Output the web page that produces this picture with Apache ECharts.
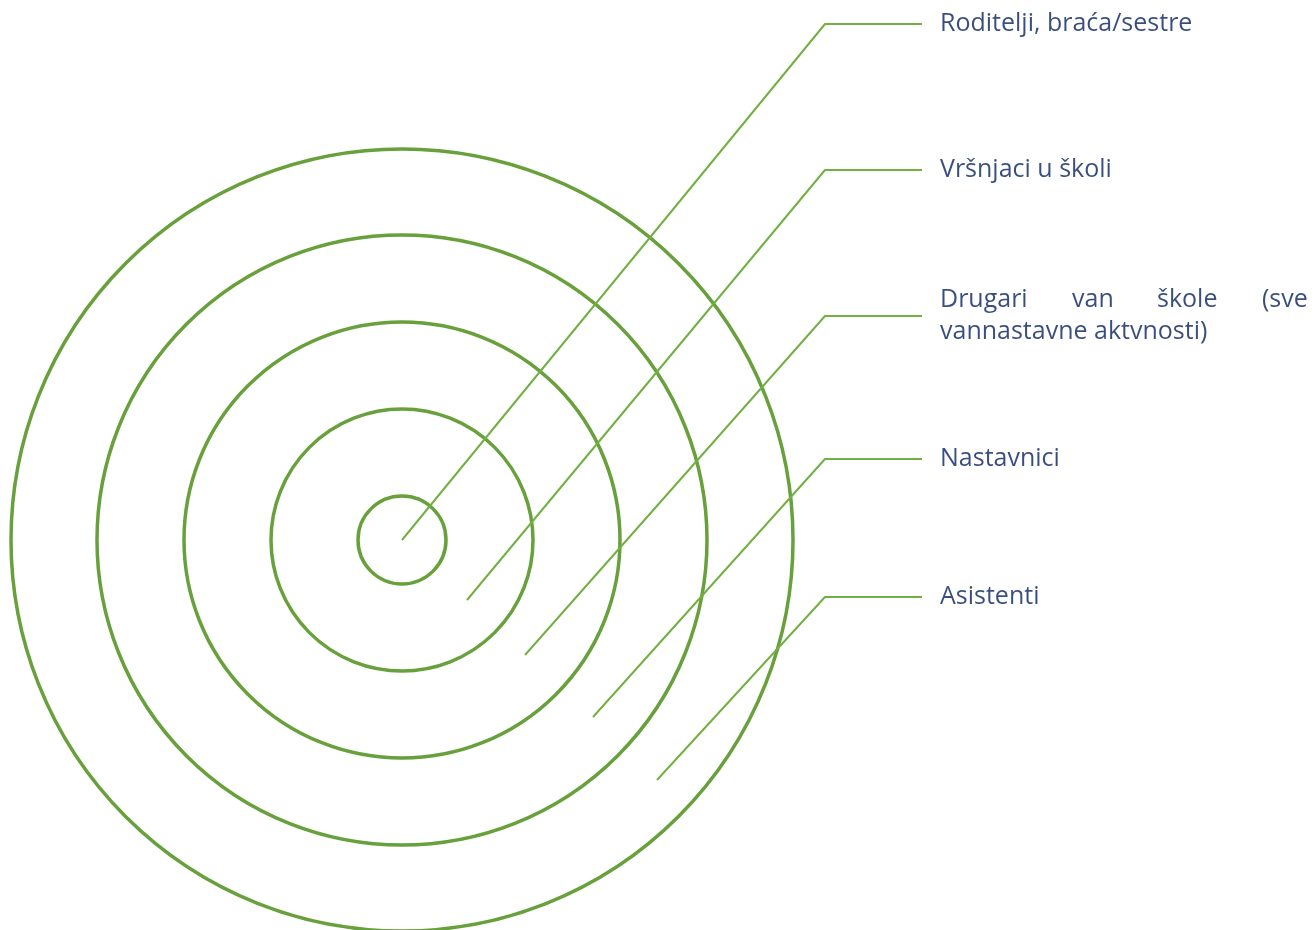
<!DOCTYPE html>
<html><head><meta charset="utf-8">
<script src="https://cdn.jsdelivr.net/npm/echarts@6/dist/echarts.min.js"></script>
<style>html,body{margin:0;padding:0;background:#fff}#c{width:1315px;height:930px}</style>
</head><body><div id="c"></div>
<script>
// Concentric circles: center and radii (chart units = pixels)
const center = [402, 540];
const radii = [44, 131, 218, 305, 391];
// Leader lines: start point, elbow, end
const categories = ['Roditelji, braća/sestre', 'Vršnjaci u školi', 'Drugari van škole (sve vannastavne aktvnosti)', 'Nastavnici', 'Asistenti'];
const lineStarts = [[402, 540], [467, 600], [525, 655], [593, 717], [657, 780]];
const elbowX = 825, endX = 922;
const labelY = [24, 170, 316, 459, 597];
const labelX = 940;
// justified first line of third label
const justifiedWords = [['Drugari', 940], ['van', 1072], ['škole', 1157], ['(sve', 1262]];
const secondLine = 'vannastavne aktvnosti)';

const textColor = '#08225c';
const circleColor = '#68a03c';
const lineColor = '#72b043';
const font = 'Open Sans';
const fs = 25;

const series = [];
series.push({
  type: 'custom', coordinateSystem: 'cartesian2d', silent: true,
  data: radii.map(r => [center[0], center[1], r]),
  renderItem: function (params, api) {
    const c = api.coord([api.value(0), api.value(1)]);
    const e = api.coord([api.value(0) + api.value(2), api.value(1)]);
    return { type: 'circle', shape: { cx: c[0], cy: c[1], r: Math.abs(e[0] - c[0]) },
      style: { fill: null, stroke: circleColor, lineWidth: 3.5 } };
  }
});
lineStarts.forEach((s, i) => {
  series.push({ type: 'line', silent: true, symbol: 'none', animation: false,
    lineStyle: { color: lineColor, width: 2 },
    data: [s, [elbowX, labelY[i]], [endX, labelY[i]]] });
});
const labelData = [];
categories.forEach((c, i) => {
  if (i === 2) {
    justifiedWords.forEach(w => labelData.push({ value: [w[1], labelY[i] - 16], name: w[0] }));
    labelData.push({ value: [labelX, labelY[i] + 16], name: secondLine });
  } else {
    labelData.push({ value: [labelX, labelY[i]], name: c });
  }
});
series.push({ type: 'scatter', silent: true, symbolSize: 0, data: labelData,
  label: { show: true, position: 'right', distance: 0, formatter: p => p.name,
    color: textColor, fontFamily: font, fontSize: fs, align: 'left', verticalAlign: 'middle' } });

const chart = echarts.init(document.getElementById('c'));
chart.setOption({
  animation: false,
  grid: { left: 0, right: 0, top: 0, bottom: 0 },
  xAxis: { type: 'value', min: 0, max: 1315, show: false },
  yAxis: { type: 'value', min: 0, max: 930, inverse: true, show: false },
  series: series
});
</script></body></html>
